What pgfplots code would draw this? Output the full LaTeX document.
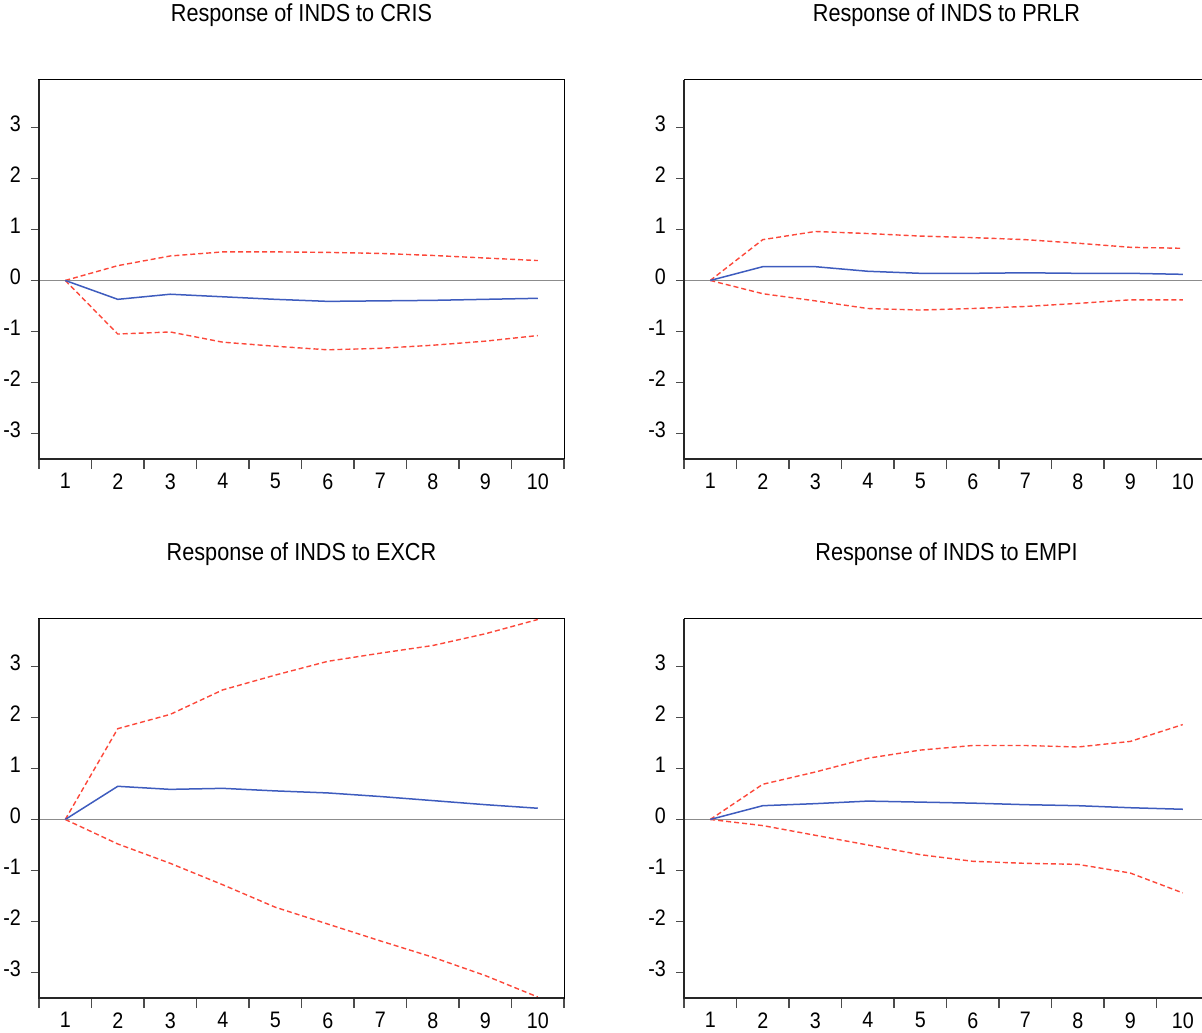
\documentclass[border=0pt]{standalone}
\usepackage{fontspec}
\setmainfont{Liberation Sans}[FakeStretch=0.88]
\usepackage{pgfplots}
\usepackage{pgfplotstable}
\pgfplotsset{compat=1.18}

\definecolor{irfblue}{RGB}{62,92,190}
\definecolor{irfred}{RGB}{252,72,58}

% h  resp  lo  hi
\pgfplotstableread{
h resp lo hi
1 0 0 0
2 -0.37 -1.05 0.29
3 -0.27 -1.01 0.48
4 -0.32 -1.21 0.56
5 -0.37 -1.29 0.56
6 -0.41 -1.36 0.55
7 -0.40 -1.33 0.53
8 -0.39 -1.27 0.49
9 -0.37 -1.19 0.44
10 -0.35 -1.08 0.39
}\cris
\pgfplotstableread{
h resp lo hi
1 0 0 0
2 0.27 -0.26 0.80
3 0.27 -0.40 0.96
4 0.18 -0.55 0.92
5 0.14 -0.58 0.87
6 0.14 -0.55 0.84
7 0.15 -0.51 0.80
8 0.14 -0.45 0.73
9 0.14 -0.38 0.65
10 0.12 -0.38 0.63
}\prlr
\pgfplotstableread{
h resp lo hi
1 0 0 0
2 0.65 -0.48 1.78
3 0.59 -0.86 2.06
4 0.61 -1.28 2.54
5 0.56 -1.72 2.83
6 0.52 -2.05 3.10
7 0.45 -2.38 3.26
8 0.37 -2.70 3.41
9 0.29 -3.06 3.64
10 0.22 -3.48 3.92
}\excr
\pgfplotstableread{
h resp lo hi
1 0 0 0
2 0.27 -0.12 0.69
3 0.31 -0.31 0.93
4 0.36 -0.50 1.20
5 0.34 -0.69 1.36
6 0.32 -0.82 1.45
7 0.29 -0.86 1.45
8 0.27 -0.88 1.42
9 0.23 -1.05 1.53
10 0.20 -1.44 1.86
}\empi

\pgfplotsset{
  irf/.style={
    scale only axis, width=262.5pt, height=189.5pt,
    anchor=south west,
    xmin=0.5, xmax=10.5, ymin=-3.5, ymax=3.93,
    xtick={1,...,10}, ytick={-3,...,3},
    minor xtick={0.5,1.5,...,10.5},
    major x tick style={draw=none},
    minor x tick style={black!70, line width=0.6pt},
    minor tick length=5pt,
    major tick length=4pt,
    y tick style={black!70, line width=0.6pt},
    tick align=outside, tick pos=left,
    axis line style={line width=0.5pt},
    /pgf/number format/assume math mode=true,
    ticklabel style={font=\fontsize{11.2}{13}\selectfont},
    xticklabel style={yshift=0.3pt},
    yticklabel style={xshift=-1.5pt, yshift=2pt},
    title style={at={(0.5,1)}, anchor=base, yshift=23pt,
      font=\fontsize{12.3}{14}\selectfont},
    clip=false,
  },
  resp/.style={irfblue, line width=0.75pt},
  band/.style={irfred, line width=0.7pt, dash pattern=on 2.5pt off 1.5pt},
}

\newcommand{\irfpanel}[3]{%
  \begin{axis}[irf, at={#1}, title={#2}]
    \draw[black!45, line width=0.6pt] (axis cs:0.5,0) -- (axis cs:10.5,0);
    \addplot[band] table[x=h, y=hi] {#3};
    \addplot[band] table[x=h, y=lo] {#3};
    \addplot[resp] table[x=h, y=resp] {#3};
    \draw[black!85, line width=1.1pt] (rel axis cs:0,1) -- (rel axis cs:0,0) -- (rel axis cs:1,0);
  \end{axis}}

\begin{document}
\begin{tikzpicture}
\irfpanel{(19.5pt,286.5pt)}{Response of INDS to CRIS}{\cris}
\irfpanel{(342pt,286.5pt)}{Response of INDS to PRLR}{\prlr}
\irfpanel{(19.5pt,17pt)}{Response of INDS to EXCR}{\excr}
\irfpanel{(342pt,17pt)}{Response of INDS to EMPI}{\empi}
\pgfresetboundingbox
\useasboundingbox (0,0) rectangle (601pt,516pt);
\end{tikzpicture}
\end{document}
